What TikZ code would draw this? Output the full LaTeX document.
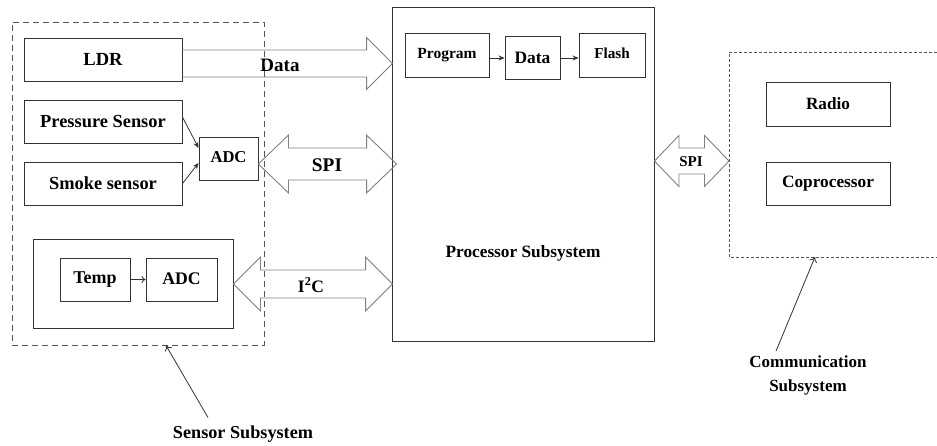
\documentclass[tikz,border=0pt]{standalone}
\usepackage{fontspec}
\setmainfont{Liberation Serif}
\usetikzlibrary{calc,arrows.meta}
\definecolor{edge}{HTML}{333333}
\definecolor{blk}{HTML}{808080}
\definecolor{dash}{HTML}{555555}
\newcommand\fs[1]{\bfseries\fontsize{#1}{#1}\selectfont}
\tikzset{
  box/.style={draw=edge, line width=0.9pt, fill=white, inner sep=0pt, font=\fs{17.5}},
  lbl/.style={inner sep=2pt, font=\fs{17.5}},
  blockarrow/.style={draw=blk, line width=0.9pt, line join=miter},
  sensordash/.style={draw=dash, line width=0.9pt, dash pattern=on 6pt off 4pt},
  commdash/.style={draw=dash, line width=0.9pt, dash pattern=on 3pt off 2pt},
  smallarrow/.style={draw=edge, line width=0.8pt, -{Stealth[length=6pt,width=5pt]}},
  openarrow/.style={draw=edge, line width=0.8pt, -{To[length=4pt,width=7pt]}},
  pointer/.style={draw=edge, line width=0.8pt, -{To[length=5pt,width=8pt]}}
}
\newcommand\dblarrow[5]{%
  \draw[blockarrow] let \p1=#1, \p2=#2 in
    (\x1,\y1) -- (\x1+#5,\y1+#4) -- (\x1+#5,\y1+#3) -- (\x2-#5,\y1+#3)
    -- (\x2-#5,\y1+#4) -- (\x2,\y1) -- (\x2-#5,\y1-#4) -- (\x2-#5,\y1-#3)
    -- (\x1+#5,\y1-#3) -- (\x1+#5,\y1-#4) -- cycle;}
\newcommand\sglarrow[5]{%
  \draw[blockarrow] let \p1=#1, \p2=#2 in
    (\x1,\y1+#3) -- (\x2-#5,\y1+#3) -- (\x2-#5,\y1+#4) -- (\x2,\y1)
    -- (\x2-#5,\y1-#4) -- (\x2-#5,\y1-#3) -- (\x1,\y1-#3);}
\begin{document}
\begin{tikzpicture}[x=1pt,y=-1pt]
\useasboundingbox (0,0) rectangle (937,445);
\fill[white] (0,0) rectangle (937,445);

% Sensor subsystem
\node[box, minimum width=158pt, minimum height=43pt, font=\fs{18.5}] (ldr) at (103,59.5) {LDR};
\node[box, minimum width=158pt, minimum height=43pt, font=\fs{18.4}] (pres) at (103,121.5) {Pressure Sensor};
\node[box, minimum width=158pt, minimum height=43pt, font=\fs{18.4}] (smoke) at (103,183.5) {Smoke sensor};
\node[box, minimum width=59pt, minimum height=43pt, font=\fs{16.6}] (adc1) at (228.5,158.5) {\raisebox{3pt}{ADC}};
\node[box, minimum width=200pt, minimum height=89pt] (tempouter) at (133,283.5) {};
\node[box, minimum width=70pt, minimum height=43pt, font=\fs{18}] (temp) at (95,279.5) {\raisebox{2pt}{Temp}};
\node[box, minimum width=71pt, minimum height=43pt, font=\fs{17.7}] (adc2) at (181.5,279.5) {\raisebox{2pt}{ADC}};

% Processor subsystem
\node[box, minimum width=262pt, minimum height=334pt] (proc) at (523,174) {};
\node[lbl, font=\fs{17.3}] (proclbl) at (523,253) {Processor Subsystem};
\node[box, minimum width=84pt, minimum height=44pt, font=\fs{15.5}] (prog) at (447,55) {\raisebox{3pt}{Program}};
\node[box, minimum width=55pt, minimum height=43pt, font=\fs{17.4}] (data) at (532.5,57.5) {Data};
\node[box, minimum width=66pt, minimum height=44pt, font=\fs{15.2}] (flash) at (612,55) {\raisebox{3pt}{Flash}};

% Communication subsystem
\node[box, minimum width=124pt, minimum height=44pt, font=\fs{17.2}] (radio) at (828,104) {Radio};
\node[box, minimum width=124pt, minimum height=43pt, font=\fs{17.3}] (copro) at (828,183.5) {Coprocessor};
\coordinate (commNW) at (729,52);
\coordinate (commSW) at (729,257);
\draw[commdash] (937,52) -- (commNW) -- (commSW) -- (937,257);

% small arrows
\draw[smallarrow] ([yshift=4.5pt]pres.east) -- ([yshift=10.5pt]adc1.west);
\draw[smallarrow] (smoke.east) -- ([yshift=-4.5pt]adc1.west);
\draw[openarrow] (temp.east) -- (adc2.west);
\draw[smallarrow] ([yshift=-3pt]prog.east) -- ([yshift=-0.5pt]data.west);
\draw[smallarrow] ([yshift=-0.5pt]data.east) -- ([yshift=-3pt]flash.west);

% block arrows
\coordinate (dataL) at ([yshift=-4pt]ldr.east);
\coordinate (dataR) at ([xshift=1pt]dataL -| proc.west);
\sglarrow{(dataL)}{(dataR)}{13.5pt}{26pt}{26pt}
\node[lbl, font=\fs{19}] (datalbl) at (280,65) {Data};

\coordinate (spiL) at ([yshift=-5.5pt]adc1.east);
\coordinate (spiR) at ([xshift=5pt]spiL -| proc.west);
\dblarrow{(spiL)}{(spiR)}{16pt}{29pt}{30pt}
\node[lbl, font=\fs{19.3}] (spilbl) at (327,165) {SPI};

\coordinate (i2cL) at ([yshift=-0.5pt]tempouter.east);
\coordinate (i2cR) at ([xshift=1pt]i2cL -| proc.west);
\dblarrow{(i2cL)}{(i2cR)}{14pt}{27pt}{27pt}
\node[lbl, font=\fs{17.5}] (i2clbl) at (311,285) {I\textsuperscript{2}C};

\coordinate (spi2L) at ([yshift=13pt]proc.east);
\coordinate (spi2R) at (spi2L -| commNW);
\dblarrow{(spi2L)}{(spi2R)}{13pt}{25.5pt}{24.5pt}
\node[lbl, font=\fs{15}] (spi2lbl) at (691,162) {SPI};

% sensor dashed box (drawn over arrows)
\node[sensordash, minimum width=252pt, minimum height=323pt, inner sep=0pt] (sensor) at (138,183.5) {};

% labels with pointers
\node[lbl, font=\fs{18.2}] (sslbl) at (243,434) {Sensor Subsystem};
\draw[pointer] ([shift={(-35pt,6pt)}]sslbl.north) -- ([xshift=28pt]sensor.south);
\node[lbl, align=center, font=\bfseries\fontsize{17}{24}\selectfont] (commlbl) at (808,375) {Communication\\Subsystem};
\draw[pointer] ([shift={(-32pt,2pt)}]commlbl.north) -- (815,257);
\end{tikzpicture}
\end{document}
